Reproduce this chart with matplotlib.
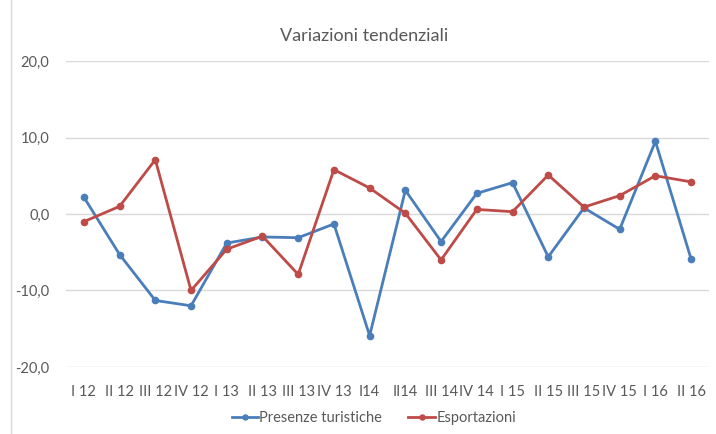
import matplotlib
matplotlib.use('Agg')
import matplotlib.pyplot as plt
from matplotlib.lines import Line2D

# Dati
trimestri = ["I 12", "II 12", "III 12", "IV 12", "I 13", "II 13", "III 13", "IV 13",
             "I14", "II14", "III 14", "IV 14", "I 15", "II 15", "III 15", "IV 15",
             "I 16", "II 16"]
presenze = [2.2, -5.3, -11.3, -12.0, -3.8, -3.0, -3.1, -1.3,
            -15.9, 3.1, -3.6, 2.7, 4.1, -5.6, 0.8, -2.0, 9.5, -5.9]
esportazioni = [-1.0, 1.0, 7.1, -10.0, -4.6, -2.9, -7.9, 5.8,
                3.4, 0.1, -6.0, 0.6, 0.3, 5.1, 0.9, 2.4, 5.0, 4.2]
yticks = [-20, -10, 0, 10, 20]

blu = "#4a7ebb"
rosso = "#be4b48"
grigio = "#595959"

plt.rcParams['font.family'] = ['Lato', 'DejaVu Sans']

fig = plt.figure(figsize=(7.16, 4.34), dpi=100)
ax = fig.add_axes([0.0922, 0.1544, 0.898, 0.705])

x = range(len(trimestri))
ax.plot(x, presenze, color=blu, lw=2, marker='o', ms=4.5, label="Presenze turistiche")
ax.plot(x, esportazioni, color=rosso, lw=2, marker='o', ms=4.5, label="Esportazioni")

ax.set_xlim(-0.5, len(trimestri) - 0.5)
ax.set_ylim(-20, 20)
ax.set_yticks(yticks)
ax.set_yticklabels([f"{v:.1f}".replace('.', ',') for v in yticks])
ax.set_xticks(list(x))
ax.set_xticklabels(trimestri)
ax.grid(axis='y', color='#d9d9d9', lw=1)
ax.set_axisbelow(True)
for s in ax.spines.values():
    s.set_visible(False)
ax.tick_params(length=0, labelsize=10.5, colors=grigio)
ax.tick_params(axis='x', pad=13)
ax.tick_params(axis='y', pad=12)

fig.text(0.508, 0.918, "Variazioni tendenziali", ha='center', va='center',
         fontsize=13, color=grigio)

# bordo sinistro del riquadro
fig.add_artist(Line2D([11 / 716, 11 / 716], [0, 1], color='#d9d9d9', lw=1))

leg = fig.legend(loc='center', bbox_to_anchor=(0.522, 0.037), ncol=2, frameon=False,
                 fontsize=10.5, handlelength=1.8, handletextpad=0.1, columnspacing=1.8,
                 markerscale=0.8)
for t in leg.get_texts():
    t.set_color(grigio)

fig.savefig("out.png", dpi=100)
